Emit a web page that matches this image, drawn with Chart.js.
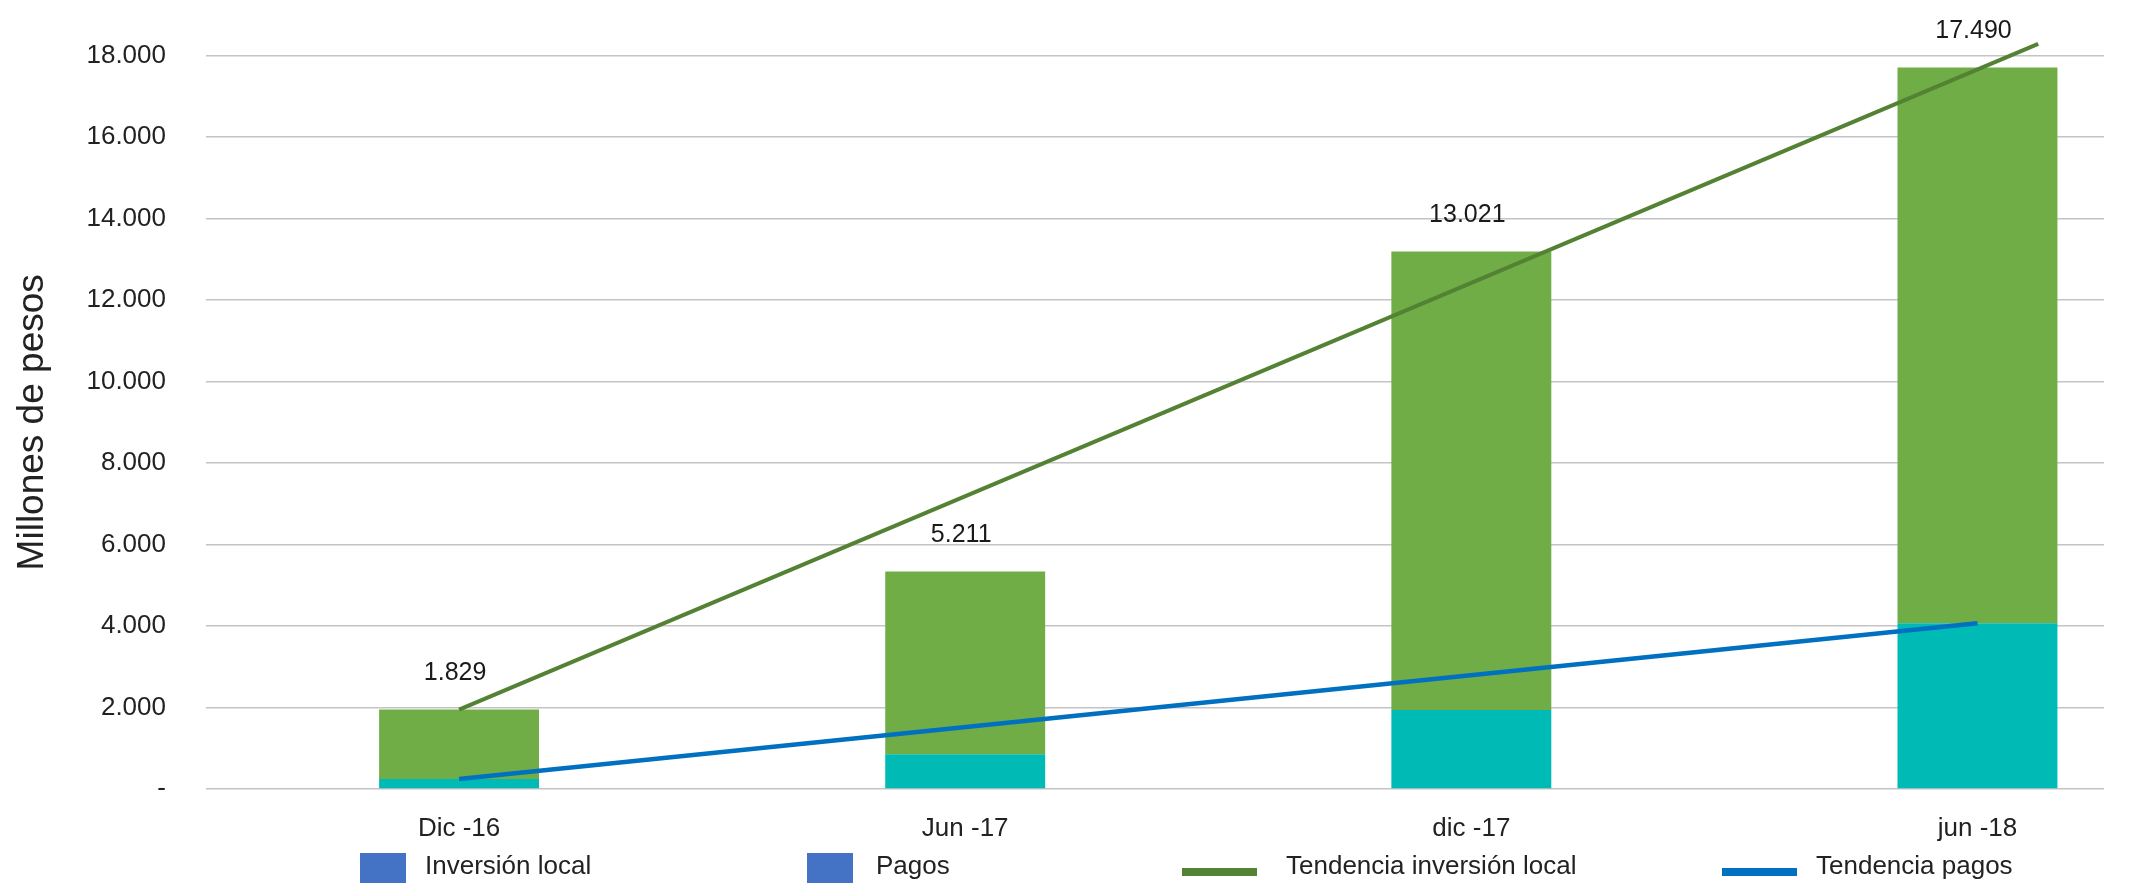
<!DOCTYPE html>
<html>
<head>
<meta charset="utf-8">
<title>Inversión local y pagos</title>
<script src="https://cdn.jsdelivr.net/npm/chart.js@4.4.1/dist/chart.umd.min.js"></script>
<style>
body{margin:0;background:#fff}
#wrap{width:2144px;height:883px;position:relative}
</style>
</head>
<body>
<div id="wrap"><canvas id="chart"></canvas></div>
<script>
// datos
let periodos=["Dic -16","Jun -17","dic -17","jun -18"]
let pagos=[245,855,1940,4070]
let inversionLocal=[1705,4485,11250,13640]
let etiquetas=["1.829","5.211","13.021","17.490"]
let ticksY=[0,2000,4000,6000,8000,10000,12000,14000,16000,18000]

// lineas de tendencia (posicion en periodos, valor)
let tendInvX=[0,3.12]
let tendInv=[1950,18290]
let tendPagosX=[0,3]
let tendPagos=[245,4070]

Chart.defaults.font.family="'Liberation Sans', Arial, sans-serif"
Chart.defaults.color="#222"

function formato(v){
return String(v).replace(/\B(?=(\d{3})+(?!\d))/g,".")
}

let etiquetasPlugin={
id:"etiquetas",
afterDatasetsDraw(chart){
let c=chart.ctx
let meta=chart.getDatasetMeta(3)
c.save()
c.font="25px 'Liberation Sans', Arial, sans-serif"
c.fillStyle="#1a1a1a"
c.textAlign="center"
c.textBaseline="middle"
meta.data.forEach((el,i)=>{
c.fillText(etiquetas[i],el.x-4,el.y-36)
})
c.restore()
}
}

let leyendaPlugin={
id:"leyenda",
afterDraw(chart){
let c=chart.ctx
let items=[
{text:"Inversión local",color:"#4472C4",tipo:"caja",x:360,tx:425},
{text:"Pagos",color:"#4472C4",tipo:"caja",x:807,tx:876},
{text:"Tendencia inversión local",color:"#548235",tipo:"linea",x:1182,tx:1286},
{text:"Tendencia pagos",color:"#0070C0",tipo:"linea",x:1722,tx:1816}
]
c.save()
c.font="26px 'Liberation Sans', Arial, sans-serif"
c.textBaseline="middle"
c.textAlign="left"
items.forEach(it=>{
c.fillStyle=it.color
if(it.tipo=="caja")
c.fillRect(it.x,853,46,30)
else
c.fillRect(it.x,868,75,8)
c.fillStyle="#222"
c.fillText(it.text,it.tx,867)
})
c.restore()
}
}

new Chart(
document.getElementById("chart"),
{
type:"bar",
data:{
datasets:[
{
type:"line",
label:"Tendencia inversión local",
data:tendInvX.map((x,i)=>({x:x,y:tendInv[i]})),
borderColor:"#548235",
borderWidth:4,
pointRadius:0,
stack:"t1",
clip:false
},
{
type:"line",
label:"Tendencia pagos",
data:tendPagosX.map((x,i)=>({x:x,y:tendPagos[i]})),
borderColor:"#0070C0",
borderWidth:4.5,
pointRadius:0,
stack:"t2",
clip:false
},
{
label:"Pagos",
data:pagos.map((v,i)=>({x:i,y:v})),
backgroundColor:"#00BAB6",
stack:"barras"
},
{
label:"Inversión local",
data:inversionLocal.map((v,i)=>({x:i,y:v})),
backgroundColor:"#70AD47",
stack:"barras"
}
]
},
options:{
responsive:true,
maintainAspectRatio:false,
animation:false,
layout:{padding:{top:51,right:40,bottom:0,left:0}},
plugins:{legend:{display:false},tooltip:{enabled:false}},
datasets:{bar:{barPercentage:0.316,categoryPercentage:1}},
scales:{
x:{
type:"linear",
min:-0.5,
max:3.25,
offset:false,
stacked:true,
grid:{display:false,offset:false},
border:{display:false},
afterBuildTicks:s=>{s.ticks=periodos.map((p,i)=>({value:i}))},
afterFit:s=>{s.height=94},
ticks:{padding:16,font:{size:26},maxRotation:0,callback:v=>periodos[v]}
},
y:{
stacked:true,
min:0,
max:18000,
afterBuildTicks:s=>{s.ticks=ticksY.map(v=>({value:v}))},
afterFit:s=>{s.width=206},
grid:{color:"#c4c4c4",lineWidth:1.5,drawTicks:false},
border:{display:false},
ticks:{padding:40,font:{size:26},callback:v=>v===0?"-":formato(v)},
title:{display:true,text:"Millones de pesos",font:{size:37},padding:{top:11,bottom:0}}
}
}
},
plugins:[etiquetasPlugin,leyendaPlugin]
})
</script>
</body>
</html>
